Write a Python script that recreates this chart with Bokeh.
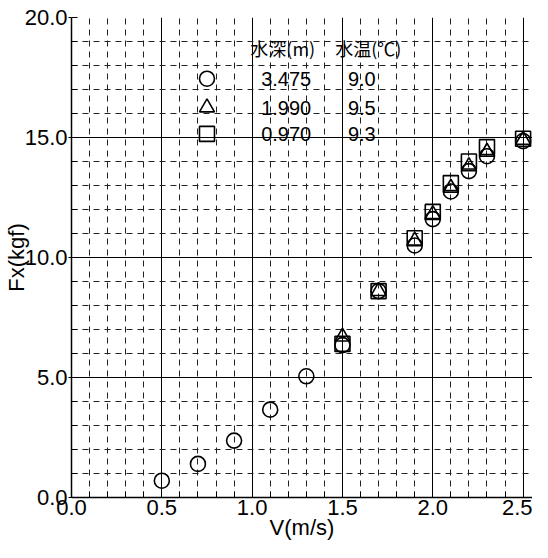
from bokeh.plotting import figure
from bokeh.models import FixedTicker, NumeralTickFormatter, Range1d
from bokeh.core.properties import value
from bokeh.embed import file_html
from bokeh.resources import INLINE

# ---- data ----
v_circle = [0.5, 0.7, 0.9, 1.1, 1.3, 1.5, 1.7, 1.9, 2.0, 2.1, 2.2, 2.3, 2.5]
fx_circle = [0.70, 1.40, 2.37, 3.66, 5.05, 6.35, 8.60, 10.50, 11.60, 12.75, 13.60, 14.22, 14.85]
v_tri = [1.5, 1.7, 1.9, 2.0, 2.1, 2.2, 2.3, 2.5]
fx_tri = [6.70, 8.60, 10.70, 11.80, 12.90, 13.80, 14.40, 14.90]
v_sq = [1.5, 1.7, 1.9, 2.0, 2.1, 2.2, 2.3, 2.5]
fx_sq = [6.40, 8.60, 10.80, 11.90, 13.10, 14.00, 14.60, 14.95]

x_ticks = [0.0, 0.5, 1.0, 1.5, 2.0, 2.5]
y_ticks = [0.0, 5.0, 10.0, 15.0, 20.0]
legend_depth = ["3.475", "1.990", "0.970"]
legend_temp = ["9.0", "9.5", "9.3"]
legend_header = ["水深(m)", "水温(℃)"]

FONT = "Liberation Sans"
CJK = "Noto Sans CJK JP"

p = figure(width=532, height=542, output_backend="svg", toolbar_location=None,
           x_range=Range1d(0, 2.552), y_range=Range1d(0, 20.0),
           min_border_left=10, min_border_top=17, min_border_right=0, min_border_bottom=10)
p.outline_line_color = None
p.background_fill_color = "white"
p.border_fill_color = "white"

x_minor = [round(i * 0.1, 1) for i in range(0, 27)]
y_minor = [float(i) for i in range(0, 21)]
p.xaxis.ticker = FixedTicker(ticks=x_ticks, minor_ticks=x_minor)
p.yaxis.ticker = FixedTicker(ticks=y_ticks, minor_ticks=y_minor)
p.xgrid.ticker = FixedTicker(ticks=x_ticks[1:], minor_ticks=x_minor)
p.ygrid.ticker = FixedTicker(ticks=y_ticks[1:-1], minor_ticks=y_minor)

for g in (p.xgrid, p.ygrid):
    g.grid_line_color = "black"
    g.grid_line_width = 1
    g.minor_grid_line_color = "#222222"
    g.minor_grid_line_width = 1
    g.minor_grid_line_dash = "6 5"

for ax in (p.xaxis, p.yaxis):
    ax.formatter = NumeralTickFormatter(format="0.0")
    ax.axis_line_color = "black"
    ax.axis_line_width = 1.5
    ax.major_tick_line_color = "black"
    ax.minor_tick_line_color = "black"
    ax.major_tick_in = 0
    ax.minor_tick_in = 6
    ax.minor_tick_out = 0
    ax.major_label_text_font = FONT
    ax.major_label_text_font_size = "22px"
    ax.major_label_text_color = "black"
    ax.axis_label_text_font = FONT
    ax.axis_label_text_font_size = "22px"
    ax.axis_label_text_font_style = "normal"
    ax.axis_label_text_color = "black"

p.xaxis.major_tick_out = 0
p.xaxis.major_label_standoff = 2
p.xaxis.axis_label_standoff = -3
p.yaxis.major_tick_out = 3
p.yaxis.major_label_standoff = 1
p.yaxis.axis_label_standoff = -7

p.xaxis.axis_label = "V(m/s)"
p.yaxis.axis_label = "Fx(kgf)"

# data markers
mk = dict(line_color="black", line_width=1.6, fill_alpha=0)
p.scatter(v_circle, fx_circle, marker="circle", size=15, **mk)
p.scatter(v_tri, fx_tri, marker="triangle", size=15, **mk)
p.scatter(v_sq, fx_sq, marker="square", size=15, **mk)

# legend block drawn in data space
row_y = [17.45, 16.25, 15.15]
row_markers = ["circle", "triangle", "square"]
for yy, m in zip(row_y, row_markers):
    p.scatter([0.75], [yy], marker=m, size=15, **mk)
p.text(x=[1.05] * 3, y=row_y, text=legend_depth, text_font=value(FONT),
       text_font_size="20px", text_baseline="middle", text_align="left", text_color="black")
p.text(x=[1.53] * 3, y=row_y, text=legend_temp, text_font=value(FONT),
       text_font_size="20px", text_baseline="middle", text_align="left", text_color="black")
p.text(x=[0.99, 1.46], y=[18.75, 18.75], text=legend_header, text_font=value(CJK),
       text_font_size="18px", text_baseline="middle", text_align="left", text_color="black")

open("out.html", "w").write(file_html(p, INLINE))
